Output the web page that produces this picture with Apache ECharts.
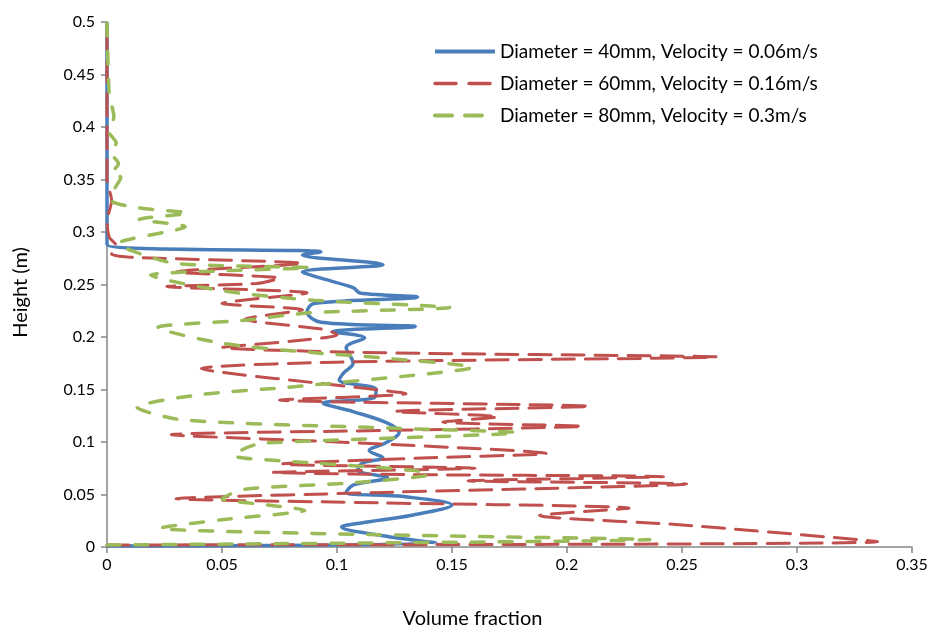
<!DOCTYPE html>
<html>
<head>
<meta charset="utf-8">
<script src="https://cdn.jsdelivr.net/npm/echarts@6/dist/echarts.min.js"></script>
<style>
html,body{margin:0;padding:0;background:#fff;}
#chart{width:934px;height:628px;}
</style>
</head>
<body>
<div id="chart"></div>
<script>
// Series names
var seriesNames = [
  'Diameter = 40mm, Velocity = 0.06m/s',
  'Diameter = 60mm, Velocity = 0.16m/s',
  'Diameter = 80mm, Velocity = 0.3m/s'
];

// Diameter 40mm: volume fraction (x) and height (y)
var blueX = [0, 0.143, 0.122, 0.102, 0.114, 0.132, 0.150, 0.129, 0.104, 0.107, 0.122, 0.109, 0.111, 0.120, 0.114, 0.121, 0.127, 0.122, 0.107, 0.094, 0.116, 0.117, 0.101, 0.103, 0.107, 0.104, 0.112, 0.098, 0.134, 0.093, 0.087, 0.090, 0.135, 0.110, 0.107, 0.093, 0.085, 0.120, 0.085, 0.093, 0, 0];
var blueY = [0.001, 0.004, 0.010, 0.019, 0.024, 0.030, 0.040, 0.048, 0.052, 0.059, 0.066, 0.073, 0.080, 0.085, 0.092, 0.099, 0.109, 0.118, 0.129, 0.137, 0.142, 0.150, 0.159, 0.166, 0.175, 0.190, 0.199, 0.205, 0.210, 0.214, 0.224, 0.232, 0.238, 0.242, 0.247, 0.256, 0.262, 0.269, 0.278, 0.281, 0.288, 0.5];

// Diameter 60mm
var redX = [0, 0.335, 0.250, 0.188, 0.227, 0.120, 0.030, 0.120, 0.252, 0.157, 0.242, 0.130, 0.072, 0.160, 0.076, 0.140, 0.191, 0.100, 0.028, 0.120, 0.207, 0.146, 0.170, 0.125, 0.210, 0.075, 0.130, 0.100, 0.041, 0.100, 0.265, 0.120, 0.050, 0.080, 0.100, 0.095, 0.060, 0.085, 0.050, 0.087, 0.026, 0.065, 0.075, 0.030, 0.085, 0.010, 0.002, 0.004, 0.001, 0.000, 0.002, 0.000, 0.000];
var redY = [0.002, 0.005, 0.021, 0.030, 0.037, 0.042, 0.046, 0.052, 0.060, 0.063, 0.067, 0.069, 0.071, 0.075, 0.079, 0.085, 0.089, 0.100, 0.107, 0.111, 0.115, 0.119, 0.124, 0.129, 0.134, 0.140, 0.146, 0.154, 0.170, 0.176, 0.181, 0.185, 0.190, 0.196, 0.202, 0.207, 0.217, 0.226, 0.232, 0.242, 0.248, 0.251, 0.256, 0.262, 0.270, 0.276, 0.279, 0.287, 0.295, 0.310, 0.330, 0.350, 0.500];

// Diameter 80mm
var greenX = [0, 0.236, 0.110, 0.023, 0.050, 0.086, 0.070, 0.050, 0.060, 0.106, 0.140, 0.133, 0.090, 0.055, 0.060, 0.068, 0.178, 0.127, 0.033, 0.013, 0.040, 0.078, 0.140, 0.159, 0.120, 0.090, 0.050, 0.022, 0.060, 0.088, 0.149, 0.090, 0.050, 0.019, 0.050, 0.088, 0.030, 0.011, 0.005, 0.034, 0.014, 0.035, 0.014, 0.002, 0.003, 0.006, 0.002, 0.005, 0.002, 0.004, 0.001, 0.003, 0.001, 0.000];
var greenY = [0.002, 0.007, 0.012, 0.018, 0.026, 0.035, 0.040, 0.046, 0.055, 0.061, 0.069, 0.073, 0.080, 0.087, 0.094, 0.099, 0.109, 0.113, 0.121, 0.133, 0.145, 0.152, 0.165, 0.171, 0.180, 0.185, 0.194, 0.209, 0.216, 0.223, 0.228, 0.235, 0.244, 0.259, 0.263, 0.266, 0.270, 0.282, 0.289, 0.305, 0.312, 0.318, 0.323, 0.330, 0.340, 0.352, 0.356, 0.365, 0.375, 0.385, 0.395, 0.410, 0.430, 0.500];

// Axis ticks
var xTicks = [0, 0.05, 0.1, 0.15, 0.2, 0.25, 0.3, 0.35];
var yTicks = [0, 0.05, 0.1, 0.15, 0.2, 0.25, 0.3, 0.35, 0.4, 0.45, 0.5];

var colors = ['#4A7EBB', '#C0504D', '#9BBB59'];

function pairs(xs, ys) {
  var out = [];
  for (var i = 0; i < xs.length; i++) out.push([xs[i], ys[i]]);
  return out;
}

var FONT = 'Lato';
var chart = echarts.init(document.getElementById('chart'), null, {renderer: 'canvas'});
chart.setOption({
  animation: false,
  backgroundColor: '#fff',
  grid: {left: 107, right: 22, top: 22, bottom: 81, containLabel: false, outerBoundsMode: 'none'},
  legend: {
    orient: 'vertical',
    left: 428,
    top: 37,
    itemWidth: 60,
    itemHeight: 18,
    itemGap: 13,
    itemStyle: {opacity: 0},
    textStyle: {fontFamily: FONT, fontSize: 19, color: '#000', lineHeight: 18},
    data: [
      {name: seriesNames[0], lineStyle: {color: colors[0], width: 4, type: 'solid'}},
      {name: seriesNames[1], lineStyle: {color: colors[1], width: 3.5, type: [21, 13]}},
      {name: seriesNames[2], lineStyle: {color: colors[2], width: 4, type: [17, 13]}}
    ]
  },
  xAxis: {
    type: 'value',
    min: xTicks[0],
    max: xTicks[xTicks.length - 1],
    interval: 0.05,
    name: 'Volume fraction',
    nameLocation: 'middle',
    nameGap: 62,
    nameTextStyle: {fontFamily: FONT, fontSize: 20, color: '#000', padding: [0, 74, 0, 0]},
    axisLine: {show: true, lineStyle: {color: '#868686', width: 1.5}},
    axisTick: {show: true, length: 6, lineStyle: {color: '#868686', width: 1.5}},
    axisLabel: {fontFamily: FONT, fontSize: 16, color: '#000', margin: 10,
      formatter: function (v) { return String(+v.toFixed(2)); }},
    splitLine: {show: false}
  },
  yAxis: {
    type: 'value',
    min: yTicks[0],
    max: yTicks[yTicks.length - 1],
    interval: 0.05,
    name: 'Height (m)',
    nameLocation: 'middle',
    nameGap: 76,
    nameTextStyle: {fontFamily: FONT, fontSize: 20, color: '#000', padding: [0, 16, 0, 0]},
    axisLine: {show: true, lineStyle: {color: '#868686', width: 1.5}},
    axisTick: {show: true, length: 6, lineStyle: {color: '#868686', width: 1.5}},
    axisLabel: {fontFamily: FONT, fontSize: 16, color: '#000', margin: 12,
      formatter: function (v) { return String(+v.toFixed(2)); }},
    splitLine: {show: false}
  },
  series: [
    {
      name: seriesNames[0], type: 'line', symbol: 'none', smooth: 0.35,
      lineStyle: {color: colors[0], width: 3.5},
      itemStyle: {color: colors[0]},
      data: pairs(blueX, blueY)
    },
    {
      name: seriesNames[1], type: 'line', symbol: 'none', smooth: 0.25,
      lineStyle: {color: colors[1], width: 3, type: [22, 11], cap: 'round'},
      itemStyle: {color: colors[1]},
      data: pairs(redX, redY)
    },
    {
      name: seriesNames[2], type: 'line', symbol: 'none', smooth: 0.25,
      lineStyle: {color: colors[2], width: 3.5, type: [13, 15], cap: 'round'},
      itemStyle: {color: colors[2]},
      data: pairs(greenX, greenY)
    }
  ]
});
</script>
</body>
</html>
